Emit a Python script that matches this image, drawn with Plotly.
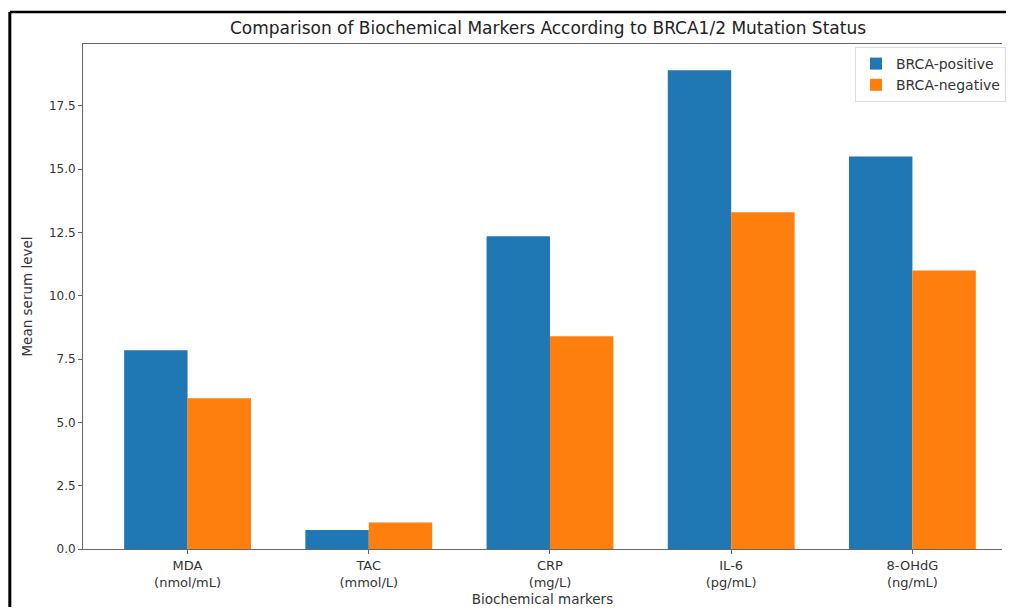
import plotly.graph_objects as go

categories = ["MDA<br>(nmol/mL)", "TAC<br>(mmol/L)", "CRP<br>(mg/L)", "IL-6<br>(pg/mL)", "8-OHdG<br>(ng/mL)"]
brca_positive = [7.85, 0.75, 12.35, 18.9, 15.5]
brca_negative = [5.95, 1.05, 8.4, 13.3, 11.0]
y_ticks = [0.0, 2.5, 5.0, 7.5, 10.0, 12.5, 15.0, 17.5]

# page has an 8px body margin; figure coordinates = page coordinates - 8
OFF = 8
W, H = 998, 599
L, R, T, B = 83 - OFF, 0, 44 - OFF, 66 - OFF
FONT = "DejaVu Sans"

fig = go.Figure()
fig.add_trace(go.Bar(x=categories, y=brca_positive, name="BRCA-positive",
                     marker=dict(color="#1f77b4", line=dict(width=0))))
fig.add_trace(go.Bar(x=categories, y=brca_negative, name="BRCA-negative",
                     marker=dict(color="#ff7f0e", line=dict(width=0))))

pw = W - L - R
ph = H - T - B
def px_x(x):
    return (x - OFF - L) / pw
def px_y(y):
    return (H - B - (y - OFF)) / ph

fig.update_layout(
    width=W, height=H,
    margin=dict(l=L, r=R, t=T, b=B, pad=0),
    paper_bgcolor="white", plot_bgcolor="white",
    barmode="group", bargap=0.3, bargroupgap=0,
    font=dict(family=FONT, size=13, color="#333"),
    title=dict(text="Comparison of Biochemical Markers According to BRCA1/2 Mutation Status",
               x=px_x(550), xref="paper", xanchor="center",
               y=1 - (28 - OFF) / H, yanchor="middle",
               font=dict(family=FONT, size=17, color="#222")),
    showlegend=True,
    legend=dict(x=px_x(1010), xanchor="right", y=px_y(47), yanchor="top",
                bgcolor="rgba(255,255,255,0.9)", bordercolor="#ddd", borderwidth=1,
                font=dict(family=FONT, size=14, color="#333"),
                itemsizing="constant"),
    xaxis=dict(type="category", range=[-0.577, -0.577 + pw / 182.0], showgrid=False,
               showline=True, linecolor="#666", linewidth=1, mirror=True,
               ticks="outside", ticklen=4, tickcolor="#666",
               tickfont=dict(family=FONT, size=13, color="#333"),
               title=dict(text="Biochemical markers", standoff=8,
                          font=dict(family=FONT, size=13.5, color="#333"))),
    yaxis=dict(range=[0, 19.94], tickvals=y_ticks, tickformat=".1f", showgrid=False,
               zeroline=False, showline=True, linecolor="#666", linewidth=1, mirror=False,
               ticks="outside", ticklen=4, tickcolor="#666",
               tickfont=dict(family=FONT, size=12, color="#333"),
               title=dict(text="Mean serum level", standoff=13,
                          font=dict(family=FONT, size=13.5, color="#333"))),
)

# black image frame (top and left edges)
fig.add_shape(type="line", xref="paper", yref="paper",
              x0=px_x(9.5), x1=px_x(1020), y0=px_y(12), y1=px_y(12),
              line=dict(color="black", width=2.5))
fig.add_shape(type="line", xref="paper", yref="paper",
              x0=px_x(9.5), x1=px_x(9.5), y0=px_y(12), y1=px_y(620),
              line=dict(color="black", width=3))

fig.write_html("out.html")
